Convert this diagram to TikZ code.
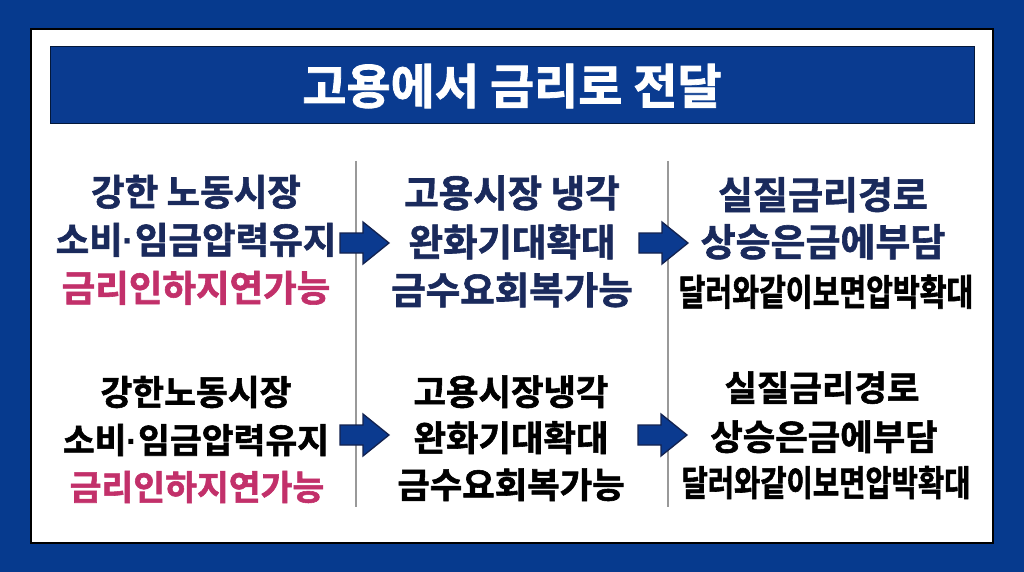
\documentclass[tikz,border=0pt]{standalone}
\usepackage{fontspec}
\newfontfamily\krb{Noto Sans CJK KR}[UprightFont=* Bold, FakeBold=1.6]
\newfontfamily\krn{Noto Sans CJK KR}[UprightFont=* Bold, FakeStretch=0.8, FakeBold=1.6]
\newfontfamily\latdot{Liberation Sans}[UprightFont=* Bold]
\newcommand\kfs[1]{\fontsize{#1}{#1}\selectfont}
\newcommand\mdot{{\latdot ·}}
\definecolor{bgblue}{HTML}{063A8E}
\definecolor{titleblue}{HTML}{0A3B90}
\definecolor{navy}{HTML}{1A2A5C}
\definecolor{pinkred}{HTML}{C2306A}
\definecolor{arrowfill}{HTML}{0B3A8F}
\definecolor{arrowline}{HTML}{13224F}
\begin{document}
\begin{tikzpicture}[x=1pt,y=-1pt,
  txt/.style={inner sep=0pt, anchor=base},
  sepline/.style={draw=gray!80, line width=1.2pt},
  arrowstyle/.style={fill=arrowfill, draw=arrowline, line width=1.3pt, line join=miter},
  rarrow/.pic={\path[arrowstyle] (0,-10)--(23,-10)--(23,-21)--(49,0)--(23,21)--(23,10)--(0,10)--cycle;}
]
\useasboundingbox (0,0) rectangle (1024,572);
\fill[bgblue] (0,0) rectangle (1024,572);
\draw[line width=2.5pt, fill=white] (31,29) rectangle (993,543);
\draw[fill=titleblue, draw=black!60!titleblue, line width=1pt] (50,47) rectangle (974,124);
\node[txt, text=white] (title) at (512,104) {\krb\kfs{48}고용에서 금리로 전달};

% separators
\draw[sepline] (356,161) -- (356,507);
\draw[sepline] (668,161) -- (668,507);

% row 1, column 1
\node[txt, text=navy] (r1a1) at (196,205.5) {\krb\kfs{36.5}강한 노동시장};
\node[txt, text=navy] (r1a2) at (196,253.5) {\krb\kfs{36.5}소비\mdot 임금압력유지};
\node[txt, text=pinkred] (r1a3) at (196,301.5) {\krb\kfs{36.5}금리인하지연가능};
% row 1, column 2
\node[txt, text=navy] (r1b1) at (512,207) {\krb\kfs{37.5}고용시장 냉각};
\node[txt, text=navy] (r1b2) at (512,256) {\krb\kfs{37.5}완화기대확대};
\node[txt, text=navy] (r1b3) at (512,304) {\krb\kfs{37.5}금수요회복가능};
% row 1, column 3
\node[txt, text=navy] (r1c1) at (823,209) {\krb\kfs{38}실질금리경로};
\node[txt, text=navy] (r1c2) at (823,256) {\krb\kfs{38}상승은금에부담};
\node[txt, text=black] (r1c3) at (826,305.5) {\krn\kfs{36.4}달러와같이보면압박확대};

% row 2, column 1
\node[txt, text=black] (r2a1) at (196,405) {\krb\kfs{34.6}강한노동시장};
\node[txt, text=black] (r2a2) at (196,453) {\krb\kfs{34.6}소비\mdot 임금압력유지};
\node[txt, text=pinkred] (r2a3) at (197,500) {\krb\kfs{34.6}금리인하지연가능};
% row 2, column 2
\node[txt, text=black] (r2b1) at (511,405) {\krb\kfs{35.3}고용시장냉각};
\node[txt, text=black] (r2b2) at (511,451) {\krb\kfs{35.3}완화기대확대};
\node[txt, text=black] (r2b3) at (511,498) {\krb\kfs{35.3}금수요회복가능};
% row 2, column 3
\node[txt, text=black] (r2c1) at (822,401) {\krb\kfs{35.3}실질금리경로};
\node[txt, text=black] (r2c2) at (824,450) {\krb\kfs{35.3}상승은금에부담};
\node[txt, text=black] (r2c3) at (826,496) {\krn\kfs{35.7}달러와같이보면압박확대};

% arrows
\pic at (340,243) {rarrow};
\pic at (639,243) {rarrow};
\pic at (340,435) {rarrow};
\pic at (638,435) {rarrow};
\end{tikzpicture}
\end{document}
